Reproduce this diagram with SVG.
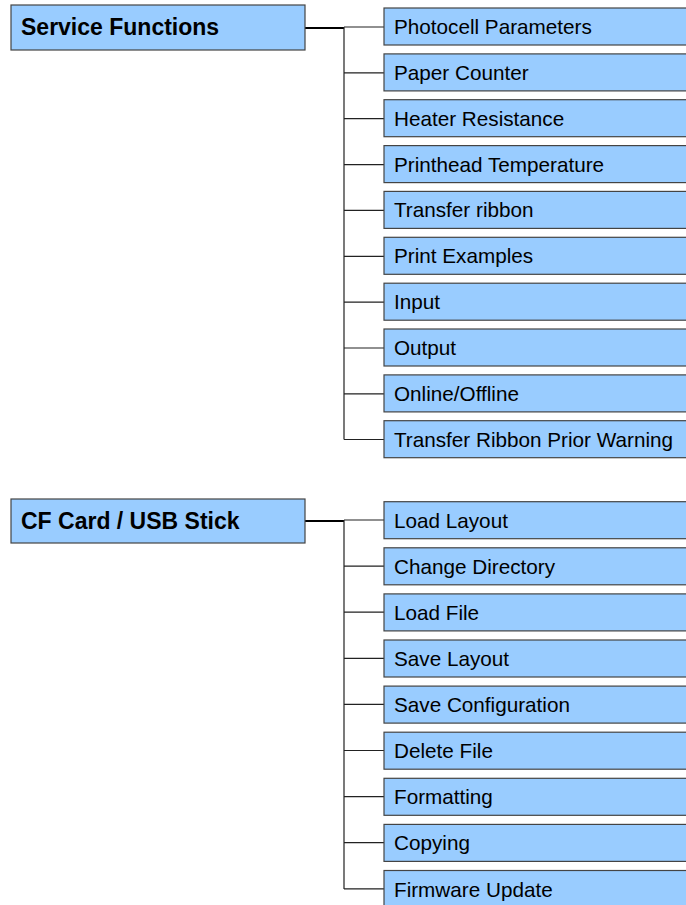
<svg xmlns="http://www.w3.org/2000/svg" width="686" height="905" viewBox="0 0 686 905">
<style>
.box{fill:#99ccff;stroke:#444;stroke-width:1.2}
.main{font-family:"Liberation Sans",Arial,sans-serif;font-weight:bold;font-size:23px;fill:#000}
.lbl{font-family:"Liberation Sans",Arial,sans-serif;font-size:20.7px;fill:#000}
.trunk{stroke:#000;stroke-width:2;fill:none}
.br{stroke:#222;stroke-width:1.2;fill:none}
</style>
<rect width="686" height="905" fill="#fff"/>
<g id="connectors">
<path class="trunk" d="M305,28 H344"/>
<path class="br" d="M344,27 V439.5 M344,27 H384 M344,72.9 H384 M344,118.7 H384 M344,164.6 H384 M344,210.4 H384 M344,256.3 H384 M344,302.2 H384 M344,348 H384 M344,393.9 H384 M344,439.5 H384"/>
<path class="trunk" d="M305,521 H344"/>
<path class="br" d="M344,520 V889 M344,520 H384 M344,566.1 H384 M344,612.2 H384 M344,658.3 H384 M344,704.4 H384 M344,750.5 H384 M344,796.6 H384 M344,842.7 H384 M344,888.8 H384"/>
</g>
<g id="service-functions"><rect class="box" x="11" y="5" width="294" height="45"/><text class="main" x="21" y="34.5">Service Functions</text></g>
<g id="photocell"><rect class="box" x="384" y="8" width="310" height="37"/><text class="lbl" x="394" y="34">Photocell Parameters</text></g>
<g id="paper-counter"><rect class="box" x="384" y="53.9" width="310" height="37"/><text class="lbl" x="394" y="79.9">Paper Counter</text></g>
<g id="heater"><rect class="box" x="384" y="99.7" width="310" height="37"/><text class="lbl" x="394" y="125.7">Heater Resistance</text></g>
<g id="printhead"><rect class="box" x="384" y="145.6" width="310" height="37"/><text class="lbl" x="394" y="171.6">Printhead Temperature</text></g>
<g id="transfer-ribbon"><rect class="box" x="384" y="191.4" width="310" height="37"/><text class="lbl" x="394" y="217.4">Transfer ribbon</text></g>
<g id="print-examples"><rect class="box" x="384" y="237.3" width="310" height="37"/><text class="lbl" x="394" y="263.3">Print Examples</text></g>
<g id="input"><rect class="box" x="384" y="283.2" width="310" height="37"/><text class="lbl" x="394" y="309.2">Input</text></g>
<g id="output"><rect class="box" x="384" y="329" width="310" height="37"/><text class="lbl" x="394" y="355">Output</text></g>
<g id="online-offline"><rect class="box" x="384" y="374.9" width="310" height="37"/><text class="lbl" x="394" y="400.9">Online/Offline</text></g>
<g id="prior-warning"><rect class="box" x="384" y="420.7" width="310" height="37"/><text class="lbl" x="394" y="446.7">Transfer Ribbon Prior Warning</text></g>
<g id="cf-card"><rect class="box" x="11" y="499" width="294" height="44"/><text class="main" x="21" y="528.5">CF Card / USB Stick</text></g>
<g id="load-layout"><rect class="box" x="384" y="501.7" width="310" height="37"/><text class="lbl" x="394" y="527.7">Load Layout</text></g>
<g id="change-directory"><rect class="box" x="384" y="547.8" width="310" height="37"/><text class="lbl" x="394" y="573.8">Change Directory</text></g>
<g id="load-file"><rect class="box" x="384" y="593.9" width="310" height="37"/><text class="lbl" x="394" y="619.9">Load File</text></g>
<g id="save-layout"><rect class="box" x="384" y="640" width="310" height="37"/><text class="lbl" x="394" y="666">Save Layout</text></g>
<g id="save-configuration"><rect class="box" x="384" y="686.1" width="310" height="37"/><text class="lbl" x="394" y="712.1">Save Configuration</text></g>
<g id="delete-file"><rect class="box" x="384" y="732.2" width="310" height="37"/><text class="lbl" x="394" y="758.2">Delete File</text></g>
<g id="formatting"><rect class="box" x="384" y="778.3" width="310" height="37"/><text class="lbl" x="394" y="804.3">Formatting</text></g>
<g id="copying"><rect class="box" x="384" y="824.4" width="310" height="37"/><text class="lbl" x="394" y="850.4">Copying</text></g>
<g id="firmware-update"><rect class="box" x="384" y="870.5" width="310" height="37"/><text class="lbl" x="394" y="896.5">Firmware Update</text></g>
</svg>
